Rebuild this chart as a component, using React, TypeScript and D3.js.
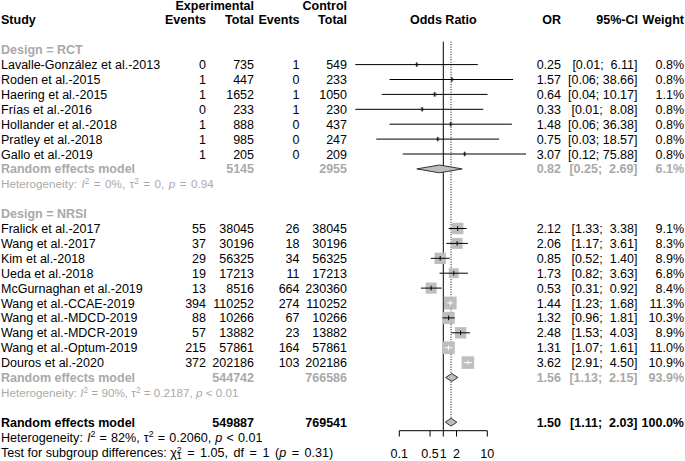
import React from 'react';
import * as d3 from 'd3';

// RCT subgroup
const rctStudies = [
  'Lavalle-González et al.-2013', 'Roden et al.-2015', 'Haering et al.-2015', 'Frías et al.-2016',
  'Hollander et al.-2018', 'Pratley et al.-2018', 'Gallo et al.-2019',
];
const rctExpEvents = [0, 1, 1, 0, 1, 1, 1];
const rctExpTotal = [735, 447, 1652, 233, 888, 985, 205];
const rctCtrlEvents = [1, 0, 1, 1, 0, 0, 0];
const rctCtrlTotal = [549, 233, 1050, 230, 437, 247, 209];
const rctOR = [0.25, 1.57, 0.64, 0.33, 1.48, 0.75, 3.07];
const rctLower = [0.01, 0.06, 0.04, 0.01, 0.06, 0.03, 0.12];
const rctUpper = [6.11, 38.66, 10.17, 8.08, 36.38, 18.57, 75.88];
const rctWeight = [0.8, 0.8, 1.1, 0.8, 0.8, 0.8, 0.8];
const rctPooled = { expTotal: 5145, ctrlTotal: 2955, or: 0.82, lower: 0.25, upper: 2.69, weight: 6.1 };

// NRSI subgroup
const nrsiStudies = [
  'Fralick et al.-2017', 'Wang et al.-2017', 'Kim et al.-2018', 'Ueda et al.-2018',
  'McGurnaghan et al.-2019', 'Wang et al.-CCAE-2019', 'Wang et al.-MDCD-2019',
  'Wang et al.-MDCR-2019', 'Wang et al.-Optum-2019', 'Douros et al.-2020',
];
const nrsiExpEvents = [55, 37, 29, 19, 13, 394, 88, 57, 215, 372];
const nrsiExpTotal = [38045, 30196, 56325, 17213, 8516, 110252, 10266, 13882, 57861, 202186];
const nrsiCtrlEvents = [26, 18, 34, 11, 664, 274, 67, 23, 164, 103];
const nrsiCtrlTotal = [38045, 30196, 56325, 17213, 230360, 110252, 10266, 13882, 57861, 202186];
const nrsiOR = [2.12, 2.06, 0.85, 1.73, 0.53, 1.44, 1.32, 2.48, 1.31, 3.62];
const nrsiLower = [1.33, 1.17, 0.52, 0.82, 0.31, 1.23, 0.96, 1.53, 1.07, 2.91];
const nrsiUpper = [3.38, 3.61, 1.40, 3.63, 0.92, 1.68, 1.81, 4.03, 1.61, 4.50];
const nrsiWeight = [9.1, 8.3, 8.9, 6.8, 8.4, 11.3, 10.3, 8.9, 11.0, 10.9];
const nrsiPooled = { expTotal: 544742, ctrlTotal: 766586, or: 1.56, lower: 1.13, upper: 2.15, weight: 93.9 };

const overall = { expTotal: 549887, ctrlTotal: 769541, or: 1.50, lower: 1.11, upper: 2.03, weight: 100.0 };
const axisTicks = [0.1, 0.5, 1, 2, 10];

const W = 685, H = 461;
const FONT = '"Liberation Sans", Arial, Helvetica, sans-serif';
const FS = 12.5;
const FS_HET_SUB = 11.7;
const FS_HET = 12.6;
const GRAY = '#a9a9a9';
const SQUARE = '#bebebe';

const x = d3.scaleLog().domain([0.1, 10]).range([399.3, 487.3]);
const y = d3.scaleLinear().domain([0, 30]).range([5, 452]);

const col = { study: 1, expEv: 206, expTot: 254, ctrlEv: 299.5, ctrlTot: 347, or: 561, ci: 637.5, w: 684 };

const fmtCI = (lo: number, up: number) => `[${lo.toFixed(2)}; ${up < 10 ? ' ' : ''}${up.toFixed(2)}]`;

const T = ({ x: tx, y: ty, anchor = 'start', bold = false, fill = '#000', size = FS, children }: any) => (
  <text x={tx} y={ty} dy="0.36em" textAnchor={anchor} fontWeight={bold ? 'bold' : 'normal'}
    fill={fill} fontSize={size} style={{ whiteSpace: 'pre' }}>{children}</text>
);

const StudyRow = ({ i, name, ee, et, ce, ct, or, lo, up, w }: any) => {
  const cy = y(i);
  const side = 3.8 * Math.sqrt(w);
  const cx = x(or);
  const x1 = x(lo), x2 = x(up);
  // CI drawn white when it sits entirely inside the box
  const inside = x1 > cx - side / 2 + 0.5 && x2 < cx + side / 2 - 0.5;
  const lc = inside ? '#fff' : '#000';
  return (
    <g>
      <T x={col.study} y={cy}>{name}</T>
      <T x={col.expEv} y={cy} anchor="end">{ee}</T>
      <T x={col.expTot} y={cy} anchor="end">{et}</T>
      <T x={col.ctrlEv} y={cy} anchor="end">{ce}</T>
      <T x={col.ctrlTot} y={cy} anchor="end">{ct}</T>
      <T x={col.or} y={cy} anchor="end">{or.toFixed(2)}</T>
      <T x={col.ci} y={cy} anchor="end">{fmtCI(lo, up)}</T>
      <T x={col.w} y={cy} anchor="end">{`${w.toFixed(1)}%`}</T>
      <rect x={cx - side / 2} y={cy - side / 2} width={side} height={side} fill={SQUARE} />
      <line x1={x1} x2={x2} y1={cy} y2={cy} stroke={lc} strokeWidth={1} />
      <line x1={cx} x2={cx} y1={cy - 2.3} y2={cy + 2.3} stroke={lc} strokeWidth={1} />
    </g>
  );
};

const PooledRow = ({ i, label, p, fill }: any) => {
  const cy = y(i);
  const d = `M${x(p.lower)},${cy} L${x(p.or)},${cy - 3.9} L${x(p.upper)},${cy} L${x(p.or)},${cy + 3.9} Z`;
  return (
    <g>
      <T x={col.study} y={cy} bold fill={fill}>{label}</T>
      <T x={col.expTot} y={cy} anchor="end" bold fill={fill}>{p.expTotal}</T>
      <T x={col.ctrlTot} y={cy} anchor="end" bold fill={fill}>{p.ctrlTotal}</T>
      <T x={col.or} y={cy} anchor="end" bold fill={fill}>{p.or.toFixed(2)}</T>
      <T x={col.ci} y={cy} anchor="end" bold fill={fill}>{fmtCI(p.lower, p.upper)}</T>
      <T x={col.w} y={cy} anchor="end" bold fill={fill}>{`${p.weight.toFixed(1)}%`}</T>
      <path d={d} fill={SQUARE} stroke="#333" strokeWidth={1} />
    </g>
  );
};

const Het = ({ i, fill, i2, tau2, p, size, ws = 0 }: any) => {
  const sup = size * 0.7;
  const up = size * 0.35;
  return (
    <text x={col.study} y={y(i)} dy="0.36em" fontSize={size} fill={fill} wordSpacing={ws}
      style={{ whiteSpace: 'pre' }}>
      {'Heterogeneity: '}
      <tspan fontStyle="italic">I</tspan>
      <tspan dy={-up} fontSize={sup}>2</tspan>
      <tspan dy={up}>{` = ${i2}, τ`}</tspan>
      <tspan dy={-up} fontSize={sup}>2</tspan>
      <tspan dy={up}>{` = ${tau2}, `}</tspan>
      <tspan fontStyle="italic">p</tspan>
      {` ${p}`}
    </text>
  );
};

export default function App() {
  const rctStart = 4, nrsiStart = 15;
  const sup = FS_HET * 0.7;
  return (
    <svg width={W} height={H} style={{ position: 'absolute', left: 0, top: 0, background: '#fff' }}
      fontFamily={FONT}>
      {/* headers */}
      <T x={col.expTot} y={y(0) + 0.8} anchor="end" bold>Experimental</T>
      <T x={col.ctrlTot} y={y(0) + 0.8} anchor="end" bold>Control</T>
      <T x={col.study} y={y(1)} bold>Study</T>
      <T x={col.expEv} y={y(1)} anchor="end" bold>Events</T>
      <T x={col.expTot} y={y(1)} anchor="end" bold>Total</T>
      <T x={col.ctrlEv} y={y(1)} anchor="end" bold>Events</T>
      <T x={col.ctrlTot} y={y(1)} anchor="end" bold>Total</T>
      <T x={x(1)} y={y(1)} anchor="middle" bold>Odds Ratio</T>
      <T x={col.or} y={y(1)} anchor="end" bold>OR</T>
      <T x={638} y={y(1)} anchor="end" bold>95%-CI</T>
      <T x={col.w} y={y(1)} anchor="end" bold>Weight</T>

      {/* reference lines */}
      <line x1={x(1)} x2={x(1)} y1={41.7} y2={430.7} stroke="#000" strokeWidth={1} />
      <line x1={x(overall.or)} x2={x(overall.or)} y1={41.7} y2={y(28)} stroke="#000" strokeWidth={1}
        strokeDasharray="1,1.5" />

      {/* RCT */}
      <T x={col.study} y={y(3)} bold fill={GRAY}>Design = RCT</T>
      {rctStudies.map((n, k) => (
        <StudyRow key={n} i={rctStart + k} name={n} ee={rctExpEvents[k]} et={rctExpTotal[k]}
          ce={rctCtrlEvents[k]} ct={rctCtrlTotal[k]} or={rctOR[k]} lo={rctLower[k]} up={rctUpper[k]} w={rctWeight[k]} />
      ))}
      <PooledRow i={11} label="Random effects model" p={rctPooled} fill={GRAY} />
      <Het i={12} fill={GRAY} i2="0%" tau2="0" p="= 0.94" size={FS_HET_SUB} ws={1.2} />

      {/* NRSI */}
      <T x={col.study} y={y(14)} bold fill={GRAY}>Design = NRSI</T>
      {nrsiStudies.map((n, k) => (
        <StudyRow key={n} i={nrsiStart + k} name={n} ee={nrsiExpEvents[k]} et={nrsiExpTotal[k]}
          ce={nrsiCtrlEvents[k]} ct={nrsiCtrlTotal[k]} or={nrsiOR[k]} lo={nrsiLower[k]} up={nrsiUpper[k]} w={nrsiWeight[k]} />
      ))}
      <PooledRow i={25} label="Random effects model" p={nrsiPooled} fill={GRAY} />
      <Het i={26} fill={GRAY} i2="90%" tau2="0.2187" p="< 0.01" size={FS_HET_SUB} />

      {/* overall */}
      <PooledRow i={28} label="Random effects model" p={overall} fill="#000" />
      <Het i={29} fill="#000" i2="82%" tau2="0.2060" p="< 0.01" size={FS_HET} ws={0.6} />
      <text x={col.study} y={y(30)} dy="0.36em" fontSize={FS_HET} style={{ whiteSpace: 'pre' }}>
        {'Test for subgroup differences: χ'}
        <tspan dy={-4} fontSize={sup}>2</tspan>
        <tspan dx={-sup * 0.556} dy={6.3} fontSize={sup}>1</tspan>
        <tspan dy={-2.3} wordSpacing={2}>{' = 1.05, df = 1 ('}</tspan>
        <tspan fontStyle="italic">p</tspan>
        <tspan wordSpacing={2}>{' = 0.31)'}</tspan>
      </text>

      {/* axis */}
      <line x1={x(0.1)} x2={x(10)} y1={430.7} y2={430.7} stroke="#000" strokeWidth={1} />
      {axisTicks.map(t => (
        <g key={t}>
          <line x1={x(t)} x2={x(t)} y1={430.7} y2={436.5} stroke="#000" strokeWidth={1} />
          <T x={x(t)} y={453} anchor="middle">{String(t)}</T>
        </g>
      ))}
    </svg>
  );
}
